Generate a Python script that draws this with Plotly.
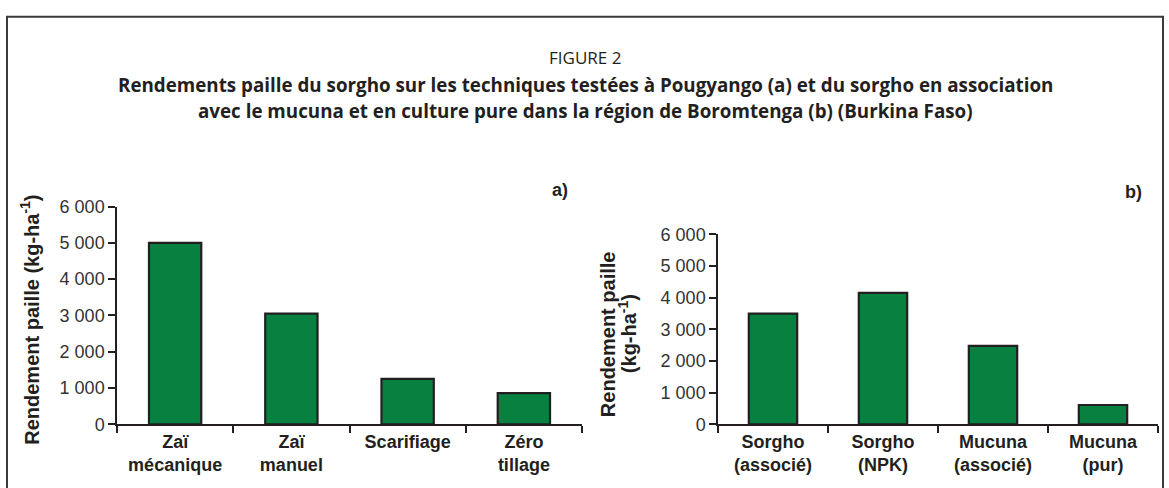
import plotly.graph_objects as go

# ---- data ----
cats_a = ["Zaï<br>mécanique", "Zaï<br>manuel", "Scarifiage", "Zéro<br>tillage"]
vals_a = [5000, 3050, 1250, 860]
cats_b = ["Sorgho<br>(associé)", "Sorgho<br>(NPK)", "Mucuna<br>(associé)", "Mucuna<br>(pur)"]
vals_b = [3500, 4150, 2480, 610]
y_ticks = [0, 1000, 2000, 3000, 4000, 5000, 6000]

W, H = 1169, 488


def px(x):
    return x / W


def py(y):
    return 1 - y / H


green = "#078040"
edge = "#231f20"
tick_col = "#333333"
font_main = "Liberation Sans"
font_title = "Open Sans"

fig = go.Figure()
fig.add_trace(go.Bar(x=cats_a, y=vals_a, xaxis="x", yaxis="y", width=0.45,
                     marker=dict(color=green, line=dict(color=edge, width=2.2))))
fig.add_trace(go.Bar(x=cats_b, y=vals_b, xaxis="x2", yaxis="y2", width=0.44,
                     marker=dict(color=green, line=dict(color=edge, width=2.2))))


def xaxis(domain, anchor):
    return dict(domain=domain, anchor=anchor, type="category", range=[-0.5, 3.5],
                showline=True, linecolor=edge, linewidth=1.5,
                ticks="outside", tickson="boundaries", ticklen=7, tickwidth=1.5, tickcolor=edge,
                tickfont=dict(family=font_main, size=18, color=edge, weight="bold"),
                showgrid=False, zeroline=False)


def yaxis(domain, anchor):
    return dict(domain=domain, anchor=anchor, range=[0, 6000], tickvals=y_ticks, tickformat=",",
                showline=True, linecolor=edge, linewidth=1.5,
                ticks="outside", ticklen=7, tickwidth=1.5, tickcolor=edge,
                tickfont=dict(family=font_main, size=18, color=tick_col),
                showgrid=False, zeroline=False)


fig.update_layout(
    width=W, height=H, margin=dict(l=0, r=0, t=0, b=0),
    paper_bgcolor="white", plot_bgcolor="white", showlegend=False,
    separators=", ", bargap=0.5,
    xaxis=xaxis([px(117), px(582)], "y"),
    yaxis=yaxis([py(432), py(205)], "x"),
    xaxis2=xaxis([px(718), px(1158)], "y2"),
    yaxis2=yaxis([py(432), py(234)], "x2"),
)

ann = [
    dict(text="FIGURE 2", x=px(585), y=py(50),
         font=dict(family=font_title, size=17, color=edge)),
    dict(text="Rendements paille du sorgho sur les techniques testées à Pougyango (a) et du sorgho en association",
         x=px(585), y=py(78), font=dict(family=font_title, size=18.8, color=edge, weight="bold")),
    dict(text="avec le mucuna et en culture pure dans la région de Boromtenga (b) (Burkina Faso)",
         x=px(585), y=py(105), font=dict(family=font_title, size=18.8, color=edge, weight="bold")),
    dict(text="a)", x=px(560), y=py(188),
         font=dict(family=font_main, size=18, color=edge, weight="bold")),
    dict(text="b)", x=px(1133), y=py(190),
         font=dict(family=font_main, size=18, color=edge, weight="bold")),
    dict(text="Rendement paille (kg-ha<sup>-1</sup>)", x=px(30), y=py(323), textangle=-90,
         font=dict(family=font_main, size=20, color=edge, weight="bold")),
    dict(text="Rendement paille", x=px(608), y=py(338), textangle=-90,
         font=dict(family=font_main, size=20, color=edge, weight="bold")),
    dict(text="(kg-ha<sup>-1</sup>)", x=px(627), y=py(338), textangle=-90,
         font=dict(family=font_main, size=20, color=edge, weight="bold")),
]
for a in ann:
    a.update(xref="paper", yref="paper", showarrow=False, xanchor="center", yanchor="middle")
fig.update_layout(annotations=ann)

fig.add_shape(type="rect", xref="paper", yref="paper",
              x0=px(7), x1=px(1163), y0=-0.2, y1=py(7),
              line=dict(color="#3a3a3a", width=2), fillcolor="rgba(0,0,0,0)")

fig.write_html("out.html", config={"displayModeBar": False},
               post_script="document.body.style.margin='0';document.body.style.overflow='hidden';")
